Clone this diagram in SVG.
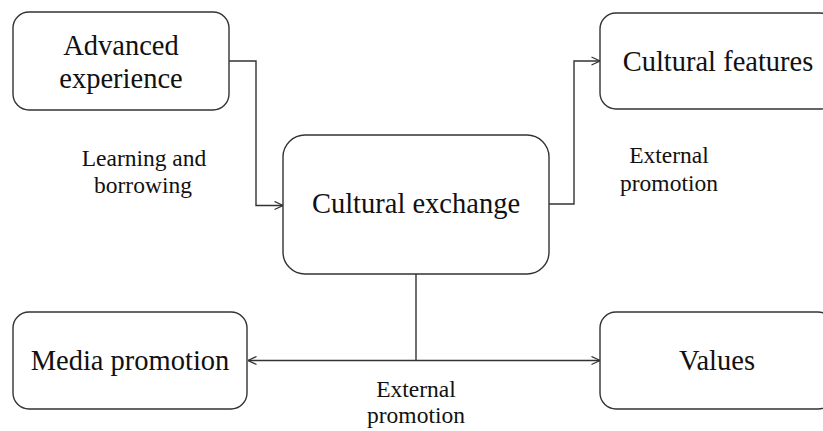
<svg xmlns="http://www.w3.org/2000/svg" width="823" height="431" viewBox="0 0 823 431">
<style>
.box{fill:#fff;stroke:#333;stroke-width:1.4}
.t{font-family:"Liberation Serif","Times New Roman",serif;fill:#111;text-anchor:middle}
.big{font-size:28.5px}
.lbl{font-size:23.5px}
.c{fill:none;stroke:#333;stroke-width:1.4}
</style>
<defs>
<marker id="arr" viewBox="0 0 10 10" refX="9.5" refY="5" markerWidth="10" markerHeight="10" markerUnits="userSpaceOnUse" orient="auto-start-reverse">
<path d="M1,1 L9.5,5 L1,9" fill="none" stroke="#333" stroke-width="1.3"/>
</marker>
</defs>
<rect width="823" height="431" fill="#fff"/>
<g id="connectors">
<path class="c" d="M229,61 H256 V205.5 H283" marker-end="url(#arr)"/>
<path class="c" d="M549,204 H574 V61 H600" marker-end="url(#arr)"/>
<path class="c" d="M416,274 V360.5"/>
<path class="c" d="M248,360.5 H600" marker-start="url(#arr)" marker-end="url(#arr)"/>
</g>
<g id="node-advanced">
<rect class="box" x="13" y="12" width="216" height="98" rx="16"/>
<text class="t big" x="121" y="55">Advanced</text>
<text class="t big" x="121" y="88">experience</text>
</g>
<g id="node-features">
<rect class="box" x="600" y="13" width="236" height="96" rx="16"/>
<text class="t big" x="718" y="71">Cultural features</text>
</g>
<g id="node-exchange">
<rect class="box" x="283" y="135" width="266" height="139" rx="22"/>
<text class="t big" x="416" y="213">Cultural exchange</text>
</g>
<g id="node-media">
<rect class="box" x="13" y="312" width="234" height="97" rx="16"/>
<text class="t big" x="130" y="370">Media promotion</text>
</g>
<g id="node-values">
<rect class="box" x="600" y="312" width="234" height="97" rx="16"/>
<text class="t big" x="717" y="370">Values</text>
</g>
<g id="labels">
<text class="t lbl" x="144" y="166">Learning and</text>
<text class="t lbl" x="143" y="193">borrowing</text>
<text class="t lbl" x="669" y="163">External</text>
<text class="t lbl" x="669" y="191">promotion</text>
<text class="t lbl" x="416" y="397">External</text>
<text class="t lbl" x="416" y="423">promotion</text>
</g>
</svg>
